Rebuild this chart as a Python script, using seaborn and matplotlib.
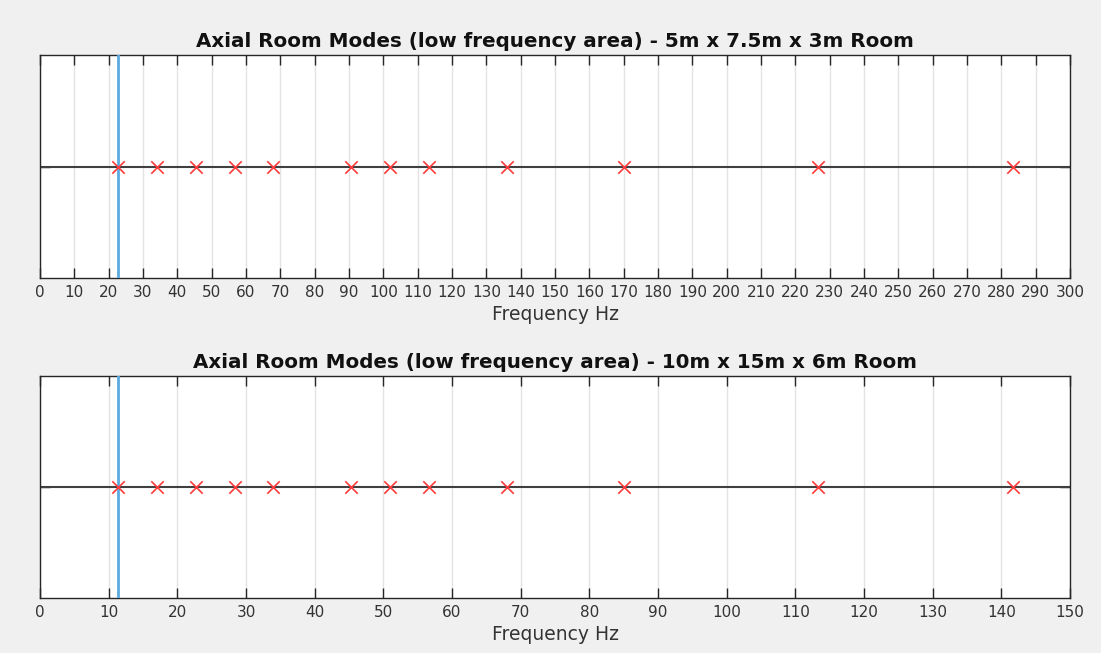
import numpy as np
import pandas as pd
import matplotlib
matplotlib.use("Agg")
import matplotlib.pyplot as plt
import seaborn as sns

# Axial mode frequencies (Hz) for the two rooms
modes_small = [22.67, 34.0, 45.33, 56.67, 68.0, 90.67, 102.0, 113.33, 136.0, 170.0, 226.67, 283.33]
modes_large = [11.33, 17.0, 22.67, 28.33, 34.0, 45.33, 51.0, 56.67, 68.0, 85.0, 113.33, 141.67]
fundamental_small = 22.67
fundamental_large = 11.33

titles = [
    "Axial Room Modes (low frequency area) - 5m x 7.5m x 3m Room",
    "Axial Room Modes (low frequency area) - 10m x 15m x 6m Room",
]
xmax = [300, 150]

sns.set_theme(style="white")
plt.rcParams["font.family"] = ["DejaVu Sans"]

fig = plt.figure(figsize=(11.01, 6.53), dpi=100, facecolor="#f0f0f0")
ax_pos = [
    [40 / 1101, 1 - 278 / 653, 1030 / 1101, 223 / 653],
    [40 / 1101, 1 - 598 / 653, 1030 / 1101, 222 / 653],
]

spine_col = "#262626"
for pos, modes, f0, title, xm in zip(
    ax_pos, [modes_small, modes_large], [fundamental_small, fundamental_large], titles, xmax
):
    ax = fig.add_axes(pos)
    ax.set_facecolor("white")
    df = pd.DataFrame({"f": modes, "y": np.zeros(len(modes))})
    ax.axhline(0, color="#404040", lw=1.5, zorder=2)
    ax.axvline(f0, color="#5aaae0", lw=2.0, zorder=3)
    sns.scatterplot(data=df, x="f", y="y", ax=ax, marker="x", s=80,
                    color="#ff3b3b", linewidth=1.2, zorder=4, legend=False)
    ax.set_xlim(0, xm)
    ax.set_ylim(-1, 1)
    ax.set_xticks(np.arange(0, xm + 1, 10))
    ax.set_yticks([0])
    ax.set_yticklabels([])
    ax.grid(axis="x", color="#e3e3e3", lw=1.0, zorder=0)
    ax.grid(axis="y", visible=False)
    ax.tick_params(axis="x", direction="in", length=7, width=1.0, color=spine_col,
                   top=True, bottom=True, labelsize=11, labelcolor="#333333", pad=5)
    ax.tick_params(axis="y", direction="in", length=7, width=1.0, color=spine_col,
                   left=True, right=True)
    for s in ax.spines.values():
        s.set_color(spine_col)
        s.set_linewidth(1.0)
    ax.set_xlabel("Frequency Hz", fontsize=13.5, color="#333333", labelpad=4)
    ax.set_ylabel("")
    ax.set_title(title, fontsize=14.3, fontweight="bold", color="#111111", pad=6)

fig.savefig("out.png", dpi=100, facecolor=fig.get_facecolor())
